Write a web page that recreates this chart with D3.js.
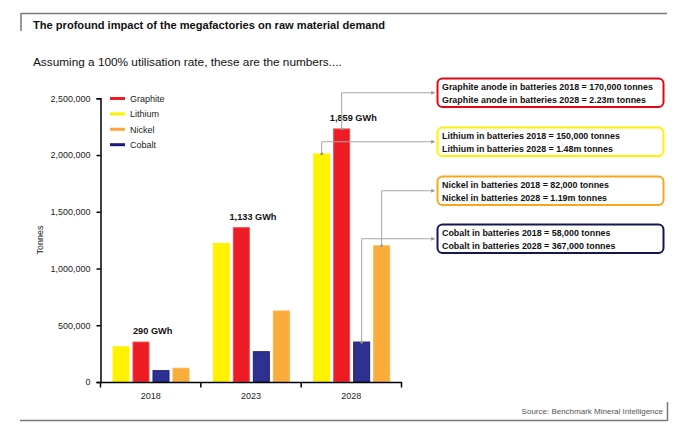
<!DOCTYPE html>
<html>
<head>
<meta charset="utf-8">
<script src="https://cdn.jsdelivr.net/npm/d3@7"></script>
<style>
  html, body { margin: 0; padding: 0; background: #fff; }
  svg { display: block; }
  text { font-family: "Liberation Sans", Arial, sans-serif; }
</style>
</head>
<body>
<svg id="chart" width="690" height="426"></svg>
<script>
// ---- data ----
const years = ["2018", "2023", "2028"];
const barOrder = ["Lithium", "Graphite", "Cobalt", "Nickel"];
const legendOrder = ["Graphite", "Lithium", "Nickel", "Cobalt"];
const lithium  = [310000, 1220000, 2010000];
const graphite = [352000, 1360000, 2230000];
const cobalt   = [100000, 267000, 352000];
const nickel   = [121000, 626000, 1200000];
const gwhLabels = ["290 GWh", "1,133 GWh", "1,859 GWh"];
const yTicks = [0, 500000, 1000000, 1500000, 2000000, 2500000];
const annotMaterials = ["Graphite", "Lithium", "Nickel", "Cobalt"];
const annotLine1 = [
  "Graphite anode in batteries 2018 = 170,000 tonnes",
  "Lithium in batteries 2018 = 150,000 tonnes",
  "Nickel in batteries 2018 = 82,000 tonnes",
  "Cobalt in batteries 2018 = 58,000 tonnes"
];
const annotLine2 = [
  "Graphite anode in batteries 2028 = 2.23m tonnes",
  "Lithium in batteries 2028 = 1.48m tonnes",
  "Nickel in batteries 2028 = 1.19m tonnes",
  "Cobalt in batteries 2028 = 367,000 tonnes"
];

const seriesValues = { Lithium: lithium, Graphite: graphite, Cobalt: cobalt, Nickel: nickel };
const fillColor = { Graphite: "#ed1c24", Lithium: "#fff200", Nickel: "#fbad3c", Cobalt: "#2e3192" };
const strokeColor = { Graphite: "#f04a50", Lithium: "#fff200", Nickel: "#f9b54c", Cobalt: "#1d1f78" };
const legendColor = { Graphite: "#ed1c24", Lithium: "#fff200", Nickel: "#fba53a", Cobalt: "#1b1b7e" };
const boxColor = { Graphite: "#e30613", Lithium: "#fff200", Nickel: "#f5a81c", Cobalt: "#12174f" };

const svg = d3.select("#chart");

// ---- frame ----
const frame = svg.append("g").attr("stroke", "#7a7a7a").attr("stroke-width", 1.5).attr("fill", "none");
frame.append("line").attr("x1", 21).attr("y1", 13.5).attr("x2", 667).attr("y2", 13.5);
frame.append("line").attr("x1", 21).attr("y1", 13).attr("x2", 21).attr("y2", 31);
frame.append("line").attr("x1", 20).attr("y1", 420.5).attr("x2", 667.5).attr("y2", 420.5);
frame.append("line").attr("x1", 667.5).attr("y1", 402).attr("x2", 667.5).attr("y2", 421);

svg.append("text").attr("x", 33).attr("y", 28.5)
  .attr("font-size", 11.1).attr("font-weight", "bold").attr("fill", "#111")
  .text("The profound impact of the megafactories on raw material demand");
svg.append("text").attr("x", 33).attr("y", 66.2)
  .attr("font-size", 11.8).attr("fill", "#111")
  .text("Assuming a 100% utilisation rate, these are the numbers....");
svg.append("text").attr("x", 663).attr("y", 413.5).attr("text-anchor", "end")
  .attr("font-size", 8).attr("fill", "#555")
  .style("font-family", "'Liberation Sans Narrow', 'Arial Narrow', sans-serif")
  .text("Source: Benchmark Mineral Intelligence");

// ---- scales ----
const x0 = d3.scaleBand().domain(years).range([100.5, 401.5]).paddingInner(0).paddingOuter(0);
const x1 = d3.scaleBand().domain(barOrder).range([10.5, 90.5]).paddingInner(0.2).paddingOuter(0.1);
const y = d3.scaleLinear().domain([0, 2500000]).range([382, 98.3]);

// ---- bars ----
const groups = svg.append("g").selectAll("g").data(years).join("g")
  .attr("transform", d => `translate(${x0(d)},0)`);
groups.selectAll("rect")
  .data((yr, i) => barOrder.map(s => ({ s, v: seriesValues[s][i] })))
  .join("rect")
  .attr("x", d => x1(d.s))
  .attr("width", x1.bandwidth())
  .attr("y", d => y(d.v))
  .attr("height", d => y(0) - y(d.v))
  .attr("fill", d => fillColor[d.s])
  .attr("stroke", d => strokeColor[d.s])
  .attr("stroke-width", 1);

// GWh labels
svg.append("g").selectAll("text").data(years).join("text")
  .attr("x", d => x0(d) + x0.bandwidth() / 2 + 2)
  .attr("y", (d, i) => y(graphite[i]) - 8)
  .attr("text-anchor", "middle")
  .attr("font-size", 9.2).attr("font-weight", "bold").attr("fill", "#111")
  .text((d, i) => gwhLabels[i]);

// ---- y axis ----
const yAxis = svg.append("g").attr("transform", "translate(100.5,0)")
  .call(d3.axisLeft(y).tickValues(yTicks).tickFormat(d3.format(",")).tickSize(4).tickPadding(6));
yAxis.select(".domain").attr("stroke", "#000").attr("stroke-width", 1.5);
yAxis.selectAll(".tick line").attr("stroke", "#000").attr("stroke-width", 1.5);
yAxis.selectAll(".tick text").attr("font-size", 9).attr("fill", "#222")
  .style("font-family", "'Liberation Sans', Arial, sans-serif");

svg.append("text")
  .attr("transform", "translate(43,240) rotate(-90)")
  .attr("text-anchor", "middle").attr("font-size", 9).attr("fill", "#222")
  .text("Tonnes");

// ---- x axis ----
const xAxis = svg.append("g").attr("transform", "translate(0,382)")
  .call(d3.axisBottom(x0).tickSize(0).tickPadding(11));
xAxis.select(".domain").attr("stroke", "#000").attr("stroke-width", 1.5);
xAxis.selectAll(".tick text").attr("font-size", 9).attr("fill", "#222")
  .style("font-family", "'Liberation Sans', Arial, sans-serif");
const boundaries = years.map(d => x0(d)).concat([x0.range()[1]]);
svg.append("g").selectAll("line").data(boundaries).join("line")
  .attr("x1", d => d).attr("x2", d => d)
  .attr("y1", 382).attr("y2", 387.5)
  .attr("stroke", "#000").attr("stroke-width", 1.5);

// ---- legend ----
const legend = svg.append("g").selectAll("g").data(legendOrder).join("g")
  .attr("transform", (d, i) => `translate(110,${98.5 + i * 15.4})`);
legend.append("line").attr("x1", 0).attr("x2", 15).attr("y1", 0).attr("y2", 0)
  .attr("stroke", d => legendColor[d]).attr("stroke-width", 3);
legend.append("text").attr("x", 20).attr("y", 3.3)
  .attr("font-size", 9).attr("fill", "#222").text(d => d);

// ---- annotation boxes ----
const boxX = 437.5, boxW = 226, boxH = 28.5;
const boxTops = [78.5, 127.5, 176.5, 224.5];
const defs = svg.append("defs");
defs.append("marker").attr("id", "arr").attr("viewBox", "0 0 6 6")
  .attr("refX", 5).attr("refY", 3).attr("markerWidth", 4).attr("markerHeight", 4)
  .attr("orient", "auto")
  .append("path").attr("d", "M0,0 L6,3 L0,6 Z").attr("fill", "#999");
defs.append("marker").attr("id", "dot").attr("viewBox", "0 0 6 6")
  .attr("refX", 3).attr("refY", 3).attr("markerWidth", 3).attr("markerHeight", 3)
  .append("circle").attr("cx", 3).attr("cy", 3).attr("r", 3).attr("fill", "#999");

const lastIdx = years.length - 1;
svg.append("g").selectAll("path").data(annotMaterials).join("path")
  .attr("d", (m, i) => {
    const bx = x0(years[lastIdx]) + x1(m) + x1.bandwidth() / 2;
    const by = y(seriesValues[m][lastIdx]);
    const cy = boxTops[i] + boxH / 2;
    return `M${bx},${by} L${bx},${cy} L${boxX - 3},${cy}`;
  })
  .attr("fill", "none").attr("stroke", "#a6a6a6").attr("stroke-width", 1)
  .attr("marker-start", "url(#dot)").attr("marker-end", "url(#arr)");

const boxes = svg.append("g").selectAll("g").data(annotMaterials).join("g")
  .attr("transform", (m, i) => `translate(${boxX},${boxTops[i]})`);
boxes.append("rect").attr("width", boxW).attr("height", boxH).attr("rx", 5)
  .attr("fill", "#fff").attr("stroke", m => boxColor[m]).attr("stroke-width", 2);
boxes.append("text").attr("x", 4.5).attr("y", 11.6)
  .attr("font-size", 8.9).attr("font-weight", "bold").attr("fill", "#111")
  .style("font-family", "'Liberation Sans Narrow', 'Arial Narrow', sans-serif")
  .text((m, i) => annotLine1[i]);
boxes.append("text").attr("x", 4.5).attr("y", 24)
  .attr("font-size", 8.9).attr("font-weight", "bold").attr("fill", "#111")
  .style("font-family", "'Liberation Sans Narrow', 'Arial Narrow', sans-serif")
  .text((m, i) => annotLine2[i]);
</script>
</body>
</html>
